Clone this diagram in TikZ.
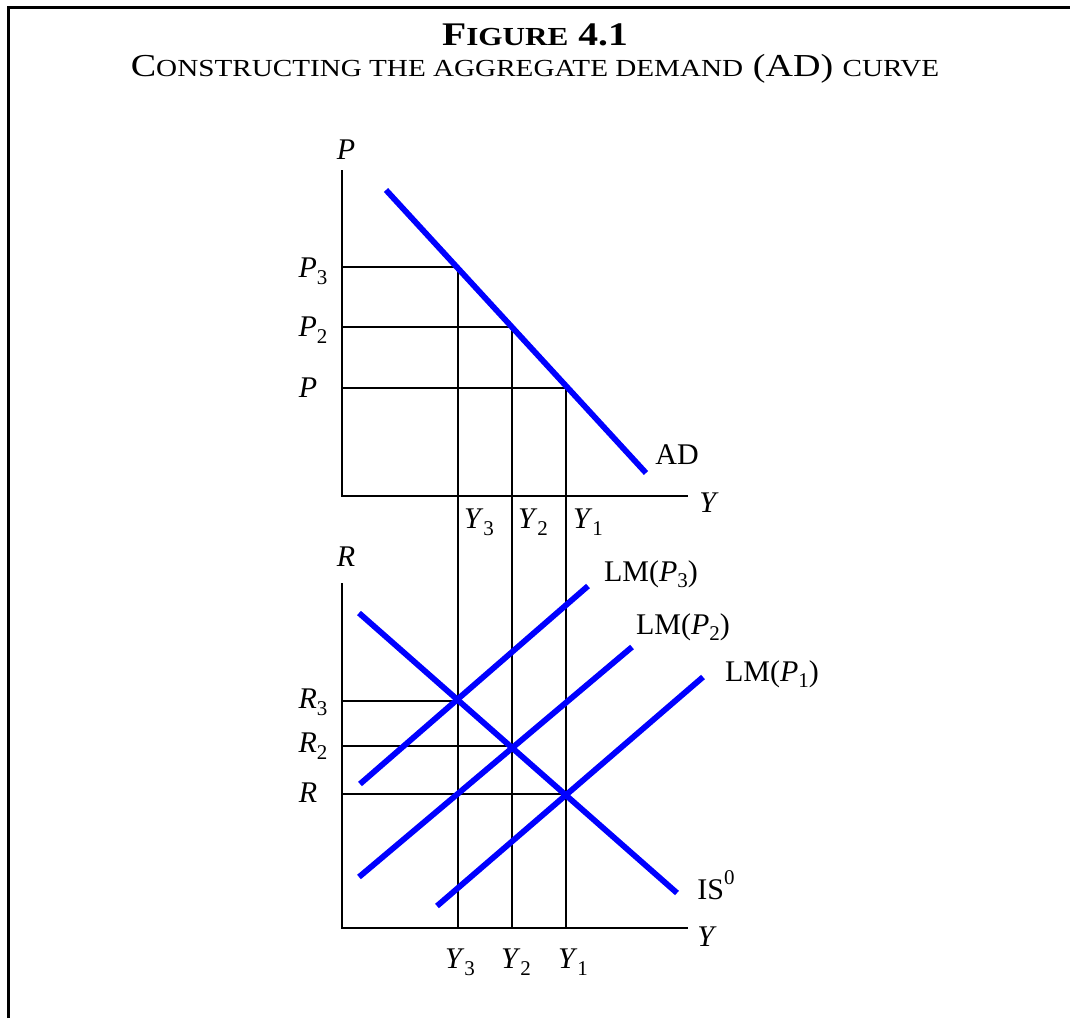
\documentclass[tikz,border=0pt]{standalone}
\usepackage{fontspec}
\setmainfont{Liberation Serif}
\newcommand\sck[1]{{\fontsize{24.5}{24.5}\selectfont #1}}
\newcommand\sckb[1]{{\fontsize{26}{26}\selectfont #1}}
\newcommand\sub[2]{\textit{#1}\raisebox{-0.22em}{\fontsize{21}{21}\selectfont #2}}
\begin{document}
\begin{tikzpicture}[x=1pt,y=-1pt,
  ax/.style={line width=2.6pt},
  guide/.style={line width=1.8pt},
  curve/.style={line width=5.8pt, draw=blue},
  lab/.style={inner sep=0pt, font=\fontsize{30}{30}\selectfont},
  ttl/.style={inner sep=0pt, anchor=base}]
\useasboundingbox (0,0) rectangle (1070,1018);
\fill[white] (0,0) rectangle (1070,1018);
% border
\coordinate (b1) at (8,1018);
\coordinate (b2) at (8,7);
\coordinate (b3) at (1070,7);
\draw[line width=3pt] (b1) -- (b2) -- (b3);
% titles
\node[ttl] (title) at (535,45) {\scalebox{1.2}[1]{\fontsize{33}{33}\selectfont\bfseries F\sckb{\bfseries IGURE} 4.1}};
\node[ttl] (subtitle) at (535,76) {\scalebox{1.19}[1]{\fontsize{32}{32}\selectfont C\sck{ONSTRUCTING THE AGGREGATE DEMAND} (AD) \sck{CURVE}}};
% ---------- top panel ----------
\coordinate (Ptop) at (342,170);
\coordinate (O1) at (342,496);
\coordinate (Yend1) at (688,496);
\coordinate (A3) at (458,267);
\coordinate (A2) at (512,327);
\coordinate (A1) at (566,388);
\coordinate (P3a) at (342,267);
\coordinate (P2a) at (342,327);
\coordinate (P1a) at (342,388);
\coordinate (AD1) at (386,190);
\coordinate (AD2) at (646,473);
% ---------- bottom panel ----------
\coordinate (Rtop) at (342,583);
\coordinate (O2) at (342,928);
\coordinate (Yend2) at (688,928);
\coordinate (V3) at (458,928);
\coordinate (V2) at (512,928);
\coordinate (V1) at (566,928);
\coordinate (E3) at (458,701);
\coordinate (E2) at (512,746);
\coordinate (E1) at (566,794);
\coordinate (R3a) at (342,701);
\coordinate (R2a) at (342,746);
\coordinate (R1a) at (342,794);
\coordinate (IS1) at (359,613);
\coordinate (IS2) at (677,893);
\coordinate (L3a) at (360,784);
\coordinate (L3b) at (588,586);
\coordinate (L2a) at (359,877);
\coordinate (L2b) at (632,647);
\coordinate (L1a) at (437,906);
\coordinate (L1b) at (703,677);
% guides
\draw[guide] (P3a) -- (A3) -- (V3);
\draw[guide] (P2a) -- (A2) -- (V2);
\draw[guide] (P1a) -- (A1) -- (V1);
\draw[guide] (R3a) -- (E3);
\draw[guide] (R2a) -- (E2);
\draw[guide] (R1a) -- (E1);
% axes
\draw[ax] (Ptop) -- (O1) -- (Yend1);
\draw[ax] (Rtop) -- (O2) -- (Yend2);
% curves
\draw[curve] (AD1) -- (AD2);
\draw[curve] (IS1) -- (IS2);
\draw[curve] (L3a) -- (L3b);
\draw[curve] (L2a) -- (L2b);
\draw[curve] (L1a) -- (L1b);
% labels top
\node[lab] (lP) at (346,150) {\textit{P}};
\node[lab] (lP3) at (313,271) {\sub{P}{3}};
\node[lab] (lP2) at (313,330) {\sub{P}{2}};
\node[lab] (lP1) at (308,388) {\textit{P}};
\node[lab] (lAD) at (677,455) {AD};
\node[lab] (lY1) at (709,503) {\textit{Y}};
\node[lab] (ty3) at (479,522) {\sub{Y}{3}};
\node[lab] (ty2) at (533,522) {\sub{Y}{2}};
\node[lab] (ty1) at (588,522) {\sub{Y}{1}};
% labels bottom
\node[lab] (lR) at (346,557) {\textit{R}};
\node[lab] (lR3) at (313,702) {\sub{R}{3}};
\node[lab] (lR2) at (313,746) {\sub{R}{2}};
\node[lab] (lR1) at (308,793) {\textit{R}};
\node[lab] (lLM3) at (651,574) {LM(\sub{P}{3})};
\node[lab] (lLM2) at (683,627) {LM(\sub{P}{2})};
\node[lab] (lLM1) at (772,674) {LM(\sub{P}{1})};
\node[lab] (lIS) at (716,885) {IS\raisebox{0.5em}{\fontsize{21}{21}\selectfont 0}};
\node[lab] (lY2) at (707,937) {\textit{Y}};
\node[lab] (by3) at (460,962) {\sub{Y}{3}};
\node[lab] (by2) at (516,962) {\sub{Y}{2}};
\node[lab] (by1) at (573,962) {\sub{Y}{1}};
\end{tikzpicture}
\end{document}
